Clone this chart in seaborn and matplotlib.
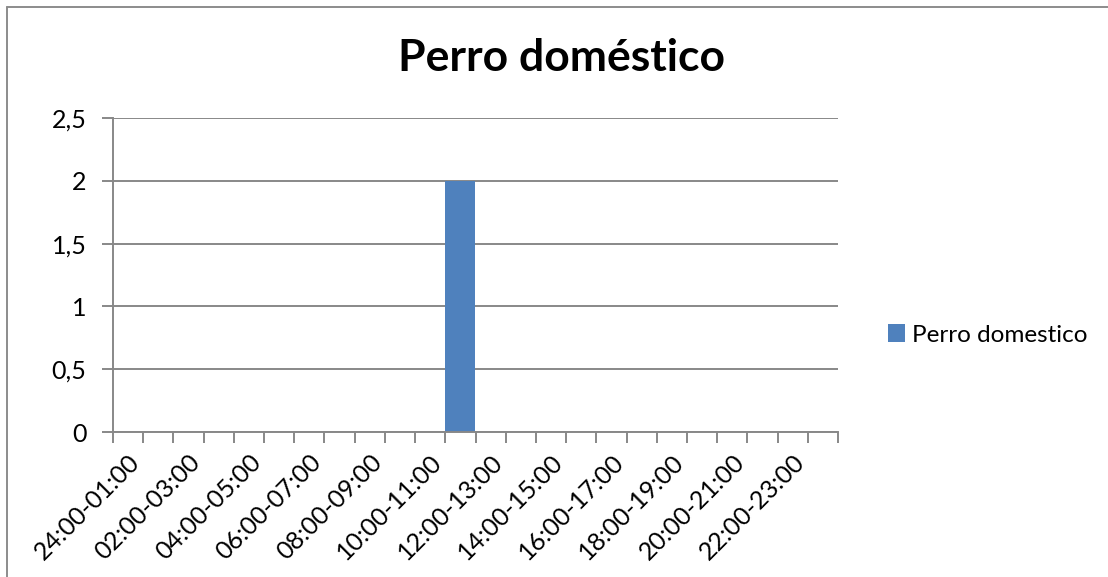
import matplotlib
matplotlib.use("Agg")
import matplotlib.pyplot as plt
import seaborn as sns
import pandas as pd
from matplotlib.lines import Line2D
from matplotlib.ticker import FuncFormatter

# Hourly intervals and sightings per interval
intervals = [
    "24:00-01:00", "01:00-02:00", "02:00-03:00", "03:00-04:00",
    "04:00-05:00", "05:00-06:00", "06:00-07:00", "07:00-08:00",
    "08:00-09:00", "09:00-10:00", "10:00-11:00", "11:00-12:00",
    "12:00-13:00", "13:00-14:00", "14:00-15:00", "15:00-16:00",
    "16:00-17:00", "17:00-18:00", "18:00-19:00", "19:00-20:00",
    "20:00-21:00", "21:00-22:00", "22:00-23:00", "23:00-24:00",
]
counts = [0, 0, 0, 0, 0, 0, 0, 0, 0, 0, 0, 2,
          0, 0, 0, 0, 0, 0, 0, 0, 0, 0, 0, 0]
series_name = "Perro domestico"
title = "Perro doméstico"
y_ticks = [0, 0.5, 1, 1.5, 2, 2.5]

sns.set_theme(style="white")
plt.rcParams["font.family"] = ["Lato", "DejaVu Sans"]
plt.rcParams["text.color"] = "black"
plt.rcParams["xtick.labelcolor"] = "black"
plt.rcParams["ytick.labelcolor"] = "black"

W, H = 1108, 577
fig = plt.figure(figsize=(W / 100, H / 100), dpi=100)
ax = fig.add_axes([113 / W, 1 - 432 / H, (838 - 113) / W, (432 - 118) / H])

df = pd.DataFrame({"interval": intervals, "count": counts})
sns.barplot(data=df, x="interval", y="count", order=intervals,
            color="#4F81BD", saturation=1, width=1.0, linewidth=0,
            label=series_name, ax=ax)

grey = "#888888"
ax.set_xlim(-0.5, len(intervals) - 0.5)
ax.set_ylim(0, 2.5)
ax.set_yticks(y_ticks)
ax.yaxis.set_major_formatter(FuncFormatter(lambda v, p: f"{v:g}".replace(".", ",")))
ax.yaxis.grid(True, color=grey, linewidth=1.4)
ax.set_axisbelow(True)

# category boundaries carry the tick marks, every other category carries a label
n = len(intervals)
ax.set_xticks([i - 0.5 for i in range(n + 1)])
ax.set_xticklabels([""] * (n + 1))
ax.set_xticks(list(range(0, n, 2)), minor=True)
ax.set_xticklabels(intervals[0::2], minor=True, rotation=45, ha="right",
                   va="top", rotation_mode="anchor", fontsize=18,
                   color="black")
ax.tick_params(axis="x", which="major", length=8, width=1.4, color=grey,
               direction="out", bottom=True)
ax.tick_params(axis="x", which="minor", length=0, pad=13, bottom=True)
ax.tick_params(axis="y", which="major", length=8, width=1.4, color=grey,
               direction="out", left=True, labelsize=18, pad=11,
               labelcolor="black")
ax.set_xlabel("")
ax.set_ylabel("")

for s in ["top", "right"]:
    ax.spines[s].set_visible(False)
for s in ["left", "bottom"]:
    ax.spines[s].set_color(grey)
    ax.spines[s].set_linewidth(1.4)

fig.text(561 / W, 1 - 58 / H, title, ha="center", va="center",
         fontsize=32, fontweight="bold", color="black")

leg = ax.legend(loc="center left", bbox_to_anchor=(878 / W, 1 - 335 / H),
                bbox_transform=fig.transFigure, frameon=False, fontsize=17.5,
                handlelength=0.7, handleheight=0.7, handletextpad=0.3,
                borderaxespad=0)
for t in leg.get_texts():
    t.set_color("black")

# chart-area outline along the left and top edges
border = dict(color="#8c8c8c", linewidth=1.4, transform=fig.transFigure)
fig.lines.append(Line2D([7 / W, 7 / W], [0, 1 - 6.5 / H], **border))
fig.lines.append(Line2D([7 / W, 1], [1 - 6.5 / H, 1 - 6.5 / H], **border))

fig.savefig("out.png", dpi=100)
